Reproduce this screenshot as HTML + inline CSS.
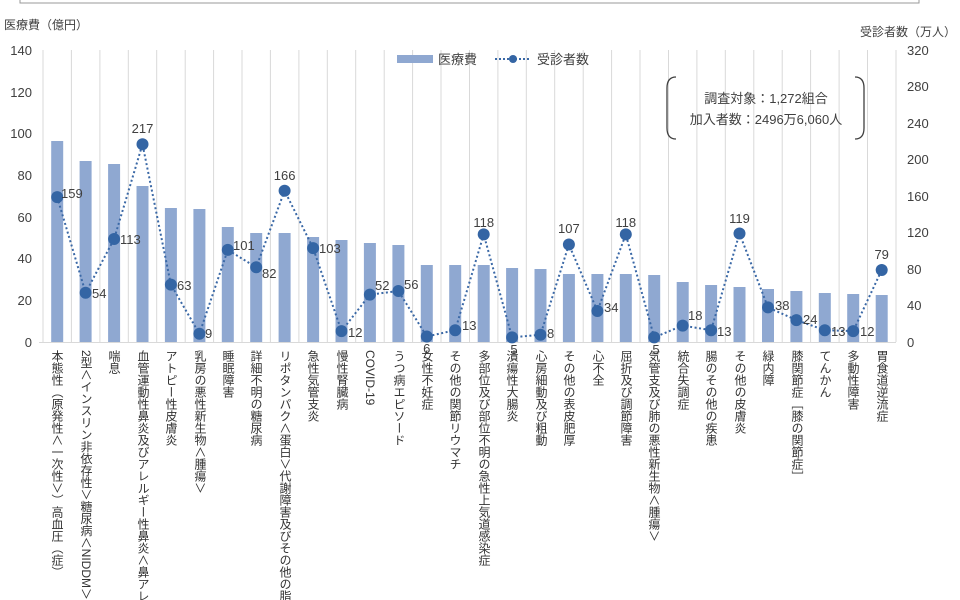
<!DOCTYPE html>
<html><head><meta charset="utf-8"><style>
html,body{margin:0;background:#fff;width:960px;height:600px;overflow:hidden}
body{position:relative;font-family:"Liberation Sans","Noto Sans CJK JP",sans-serif;color:#404040}
#lab{position:absolute;left:0;top:0;width:960px;height:600px;overflow:hidden}
.v{position:absolute;top:350px;writing-mode:vertical-rl;font-size:12px;line-height:14px;letter-spacing:0;color:#333;white-space:nowrap}
</style></head><body>
<svg width="960" height="600" style="position:absolute;left:0;top:0" font-family="Liberation Sans, Noto Sans CJK JP, sans-serif">
<rect x="20" y="-10" width="899" height="13" fill="none" stroke="#999" stroke-width="1"/>
<g stroke="#d9d9d9" stroke-width="1">
<line x1="43" y1="50" x2="43" y2="342"/><line x1="71.4" y1="50" x2="71.4" y2="342"/><line x1="99.9" y1="50" x2="99.9" y2="342"/><line x1="128.3" y1="50" x2="128.3" y2="342"/><line x1="156.7" y1="50" x2="156.7" y2="342"/><line x1="185.2" y1="50" x2="185.2" y2="342"/><line x1="213.6" y1="50" x2="213.6" y2="342"/><line x1="242" y1="50" x2="242" y2="342"/><line x1="270.4" y1="50" x2="270.4" y2="342"/><line x1="298.9" y1="50" x2="298.9" y2="342"/><line x1="327.3" y1="50" x2="327.3" y2="342"/><line x1="355.7" y1="50" x2="355.7" y2="342"/><line x1="384.2" y1="50" x2="384.2" y2="342"/><line x1="412.6" y1="50" x2="412.6" y2="342"/><line x1="441" y1="50" x2="441" y2="342"/><line x1="469.5" y1="50" x2="469.5" y2="342"/><line x1="497.9" y1="50" x2="497.9" y2="342"/><line x1="526.3" y1="50" x2="526.3" y2="342"/><line x1="554.7" y1="50" x2="554.7" y2="342"/><line x1="583.2" y1="50" x2="583.2" y2="342"/><line x1="611.6" y1="50" x2="611.6" y2="342"/><line x1="640" y1="50" x2="640" y2="342"/><line x1="668.5" y1="50" x2="668.5" y2="342"/><line x1="696.9" y1="50" x2="696.9" y2="342"/><line x1="725.3" y1="50" x2="725.3" y2="342"/><line x1="753.8" y1="50" x2="753.8" y2="342"/><line x1="782.2" y1="50" x2="782.2" y2="342"/><line x1="810.6" y1="50" x2="810.6" y2="342"/><line x1="839.1" y1="50" x2="839.1" y2="342"/><line x1="867.5" y1="50" x2="867.5" y2="342"/><line x1="896" y1="50" x2="896" y2="342"/>
<line x1="39" y1="342.5" x2="896" y2="342.5"/>
</g>
<g fill="#8FA8D1">
<rect x="51.2" y="141" width="12" height="201"/><rect x="79.6" y="161" width="12" height="181"/><rect x="108.1" y="164" width="12" height="178"/><rect x="136.5" y="186" width="12" height="156"/><rect x="164.9" y="208" width="12" height="134"/><rect x="193.4" y="209" width="12" height="133"/><rect x="221.8" y="227" width="12" height="115"/><rect x="250.2" y="233" width="12" height="109"/><rect x="278.6" y="233" width="12" height="109"/><rect x="307.1" y="237" width="12" height="105"/><rect x="335.5" y="240" width="12" height="102"/><rect x="363.9" y="243" width="12" height="99"/><rect x="392.4" y="245" width="12" height="97"/><rect x="420.8" y="265" width="12" height="77"/><rect x="449.2" y="265" width="12" height="77"/><rect x="477.7" y="265" width="12" height="77"/><rect x="506.1" y="268" width="12" height="74"/><rect x="534.5" y="269" width="12" height="73"/><rect x="562.9" y="274" width="12" height="68"/><rect x="591.4" y="274" width="12" height="68"/><rect x="619.8" y="274" width="12" height="68"/><rect x="648.2" y="275" width="12" height="67"/><rect x="676.7" y="282" width="12" height="60"/><rect x="705.1" y="285" width="12" height="57"/><rect x="733.5" y="287" width="12" height="55"/><rect x="762" y="289" width="12" height="53"/><rect x="790.4" y="291" width="12" height="51"/><rect x="818.8" y="293" width="12" height="49"/><rect x="847.2" y="294" width="12" height="48"/><rect x="875.7" y="295" width="12" height="47"/>
</g>
<polyline fill="none" stroke="#3A68A6" stroke-width="2" stroke-dasharray="2 2.5" points="57.2,197.1 85.6,292.8 114.1,239 142.5,144.2 170.9,284.6 199.4,333.8 227.8,249.9 256.2,267.3 284.6,190.7 313.1,248.1 341.5,331.1 369.9,294.6 398.4,291 426.8,336.5 455.2,330.2 483.7,234.4 512.1,337.4 540.5,334.7 568.9,244.5 597.4,311 625.8,234.4 654.2,337.4 682.7,325.6 711.1,330.2 739.5,233.5 768,307.4 796.4,320.1 824.8,330.2 853.2,331.1 881.7,270"/>
<g fill="#3465A4">
<circle cx="57.2" cy="197.1" r="6"/><circle cx="85.6" cy="292.8" r="6"/><circle cx="114.1" cy="239" r="6"/><circle cx="142.5" cy="144.2" r="6"/><circle cx="170.9" cy="284.6" r="6"/><circle cx="199.4" cy="333.8" r="6"/><circle cx="227.8" cy="249.9" r="6"/><circle cx="256.2" cy="267.3" r="6"/><circle cx="284.6" cy="190.7" r="6"/><circle cx="313.1" cy="248.1" r="6"/><circle cx="341.5" cy="331.1" r="6"/><circle cx="369.9" cy="294.6" r="6"/><circle cx="398.4" cy="291" r="6"/><circle cx="426.8" cy="336.5" r="6"/><circle cx="455.2" cy="330.2" r="6"/><circle cx="483.7" cy="234.4" r="6"/><circle cx="512.1" cy="337.4" r="6"/><circle cx="540.5" cy="334.7" r="6"/><circle cx="568.9" cy="244.5" r="6"/><circle cx="597.4" cy="311" r="6"/><circle cx="625.8" cy="234.4" r="6"/><circle cx="654.2" cy="337.4" r="6"/><circle cx="682.7" cy="325.6" r="6"/><circle cx="711.1" cy="330.2" r="6"/><circle cx="739.5" cy="233.5" r="6"/><circle cx="768" cy="307.4" r="6"/><circle cx="796.4" cy="320.1" r="6"/><circle cx="824.8" cy="330.2" r="6"/><circle cx="853.2" cy="331.1" r="6"/><circle cx="881.7" cy="270" r="6"/>
</g>
<g font-size="13" fill="#404040">
<text x="61" y="198">159</text><text x="92" y="298">54</text><text x="120" y="244">113</text><text x="142.5" y="133" text-anchor="middle">217</text><text x="177" y="290">63</text><text x="205" y="338">9</text><text x="233" y="250">101</text><text x="262" y="278">82</text><text x="284.6" y="180" text-anchor="middle">166</text><text x="319" y="253">103</text><text x="348" y="337">12</text><text x="375" y="290">52</text><text x="404" y="289">56</text><text x="426.8" y="353" text-anchor="middle">6</text><text x="462" y="330">13</text><text x="483.7" y="227" text-anchor="middle">118</text><text x="514" y="354" text-anchor="middle">5</text><text x="547" y="338">8</text><text x="568.9" y="233" text-anchor="middle">107</text><text x="604" y="312">34</text><text x="625.8" y="227" text-anchor="middle">118</text><text x="656" y="354" text-anchor="middle">5</text><text x="688" y="320">18</text><text x="717" y="336">13</text><text x="739.5" y="223" text-anchor="middle">119</text><text x="775" y="310">38</text><text x="803" y="324">24</text><text x="831" y="336">13</text><text x="860" y="336">12</text><text x="881.7" y="259" text-anchor="middle">79</text>
</g>
<g font-size="13" fill="#404040" text-anchor="end">
<text x="32" y="55">140</text><text x="32" y="97">120</text><text x="32" y="138">100</text><text x="32" y="180">80</text><text x="32" y="222">60</text><text x="32" y="263">40</text><text x="32" y="305">20</text><text x="32" y="347">0</text>
</g>
<g font-size="13" fill="#404040">
<text x="907" y="55">320</text><text x="907" y="91">280</text><text x="907" y="128">240</text><text x="907" y="164">200</text><text x="907" y="201">160</text><text x="907" y="237">120</text><text x="907" y="274">80</text><text x="907" y="310">40</text><text x="907" y="347">0</text>
</g>
<text x="4" y="29" font-size="12" fill="#404040">医療費（億円）</text>
<text x="956" y="36" font-size="12" fill="#404040" text-anchor="end">受診者数（万人）</text>
<rect x="397" y="55" width="36" height="8" fill="#8FA8D1"/>
<text x="438" y="64" font-size="13" fill="#404040">医療費</text>
<line x1="495" y1="59" x2="531" y2="59" stroke="#3A68A6" stroke-width="2" stroke-dasharray="2 2"/>
<circle cx="513" cy="59" r="4" fill="#3465A4"/>
<text x="537" y="64" font-size="13" fill="#404040">受診者数</text>
<path d="M676,77 Q667,77 667,88 L667,128 Q667,139 676,139" fill="none" stroke="#404040" stroke-width="1.3"/>
<path d="M855,77 Q864,77 864,88 L864,128 Q864,139 855,139" fill="none" stroke="#404040" stroke-width="1.3"/>
<text x="766" y="103" font-size="13" fill="#404040" text-anchor="middle">調査対象：1,272組合</text>
<text x="766" y="124" font-size="13" fill="#404040" text-anchor="middle">加入者数：2496万6,060人</text>
</svg>
<div id="lab">
<div class="v" style="left:50px">本態性（原発性＜一次性＞）高血圧（症）</div>
<div class="v" style="left:79px">2型＜インスリン非依存性＞糖尿病＜NIDDM＞</div>
<div class="v" style="left:107px">喘息</div>
<div class="v" style="left:136px">血管運動性鼻炎及びアレルギー性鼻炎＜鼻アレ</div>
<div class="v" style="left:164px">アトピー性皮膚炎</div>
<div class="v" style="left:193px">乳房の悪性新生物＜腫瘍＞</div>
<div class="v" style="left:221px">睡眠障害</div>
<div class="v" style="left:249px">詳細不明の糖尿病</div>
<div class="v" style="left:278px">リポタンパク＜蛋白＞代謝障害及びその他の脂（</div>
<div class="v" style="left:306px">急性気管支炎</div>
<div class="v" style="left:335px">慢性腎臓病</div>
<div class="v" style="left:363px">COVID-19</div>
<div class="v" style="left:392px">うつ病エピソード</div>
<div class="v" style="left:420px">女性不妊症</div>
<div class="v" style="left:448px">その他の関節リウマチ</div>
<div class="v" style="left:477px">多部位及び部位不明の急性上気道感染症</div>
<div class="v" style="left:505px">潰瘍性大腸炎</div>
<div class="v" style="left:534px">心房細動及び粗動</div>
<div class="v" style="left:562px">その他の表皮肥厚</div>
<div class="v" style="left:591px">心不全</div>
<div class="v" style="left:619px">屈折及び調節障害</div>
<div class="v" style="left:647px">気管支及び肺の悪性新生物＜腫瘍＞</div>
<div class="v" style="left:676px">統合失調症</div>
<div class="v" style="left:704px">腸のその他の疾患</div>
<div class="v" style="left:733px">その他の皮膚炎</div>
<div class="v" style="left:761px">緑内障</div>
<div class="v" style="left:790px">膝関節症［膝の関節症］</div>
<div class="v" style="left:818px">てんかん</div>
<div class="v" style="left:846px">多動性障害</div>
<div class="v" style="left:875px">胃食道逆流症</div>
</div>
</body></html>
